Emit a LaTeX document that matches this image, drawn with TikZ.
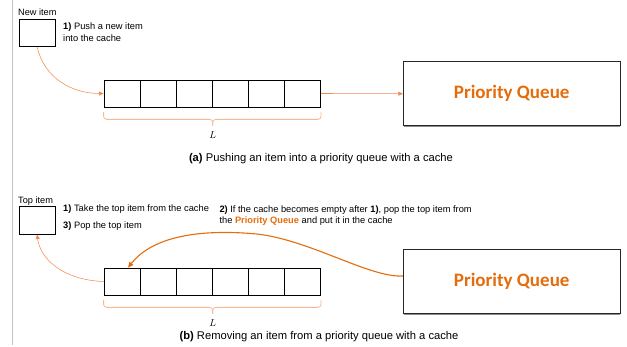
\documentclass[tikz,border=0pt]{standalone}
\usepackage{fontspec}
\setmainfont{Liberation Sans}
\newfontfamily\pqfont{Carlito}
\usetikzlibrary{arrows.meta,calc}
\definecolor{pqorange}{RGB}{228,108,10}
\definecolor{linkorange}{RGB}{240,140,80}
\definecolor{braceorange}{RGB}{246,185,145}
\definecolor{framegray}{RGB}{195,195,195}

\begin{document}
\begin{tikzpicture}[x=1pt,y=-1pt,
  cell/.style={draw=black, line width=0.8pt, minimum width=36.1pt, minimum height=27pt, inner sep=0pt},
  itembox/.style={draw=black, line width=0.8pt, minimum width=36.3pt, minimum height=27.5pt, inner sep=0pt},
  pqbox/.style={draw=black!85, line width=0.9pt, minimum width=216.7pt, minimum height=64pt, inner sep=0pt,
    font=\pqfont\bfseries\fontsize{19}{22}\selectfont, text=pqorange},
  lbl/.style={inner sep=0pt, anchor=base west, font=\fontsize{9.3}{11.9}\selectfont, align=left},
  itemlbl/.style={inner sep=0pt, anchor=base west, font=\fontsize{9.2}{11}\selectfont},
  caption/.style={inner sep=0pt, anchor=base, font=\fontsize{11.2}{13}\selectfont},
  lenlabel/.style={inner sep=0pt, anchor=base, font=\fontsize{10}{12}\selectfont},
  thinarrow/.style={draw=linkorange, line width=0.55pt, -{Triangle[length=4.5pt,width=4pt]}},
  thickarrow/.style={draw=pqorange, line width=1.1pt, -{Triangle[length=5.5pt,width=5pt]}},
  bracestyle/.style={draw=braceorange, line width=0.8pt, rounded corners=3pt},
  pqshadow/.style={draw=black!45, line width=1.2pt},
]
\useasboundingbox (0,0) rectangle (627,347);

% left rule
\draw[framegray, line width=0.9pt] (12.5,0) -- (12.5,345);

% ---------------- (a) push ----------------
\node[itemlbl] (newlbl) at (18,15.8) {New item};
\node[itembox] (newbox) at (37.15,32.7) {};
% the base anchor of a two-line label sits on its last line
\node[lbl] (push) at (63,41.3) {\textbf{1)} Push a new item\\into the cache};

\foreach \i in {1,...,6}
  \node[cell] (a\i) at ({104+36.1*(\i-0.5)},93.5) {};

\draw[pqshadow] ($(403.3,125.7)+(1,0.8)$) -- ($(620,125.7)+(0,0.8)$);
\node[pqbox] (pqa) at (511.7,93.7) {Priority Queue};

\draw[bracestyle] ($(a1.south west)+(0,4.5)$) |- ($(a3.south east)+(0,12)$) -- ($(a3.south east)+(0,18.5)$);
\draw[bracestyle] ($(a6.south east)+(0,4.5)$) |- ($(a3.south east)+(0,12)$) -- ($(a3.south east)+(0,18.5)$);
\node[lenlabel] (la) at ($(a3.south east)+(0,31.5)$) {$L$};

\draw[thinarrow] (newbox.south) .. controls (44,78) and (72,93.5) .. (a1.west);
\draw[thinarrow] (a6.east) -- (pqa.west);

\node[caption] (capa) at (321,162) {\textbf{(a)} Pushing an item into a priority queue with a cache};

% ---------------- (b) pop ----------------
\node[itemlbl] (toplbl) at (18,203.3) {Top item};
\node[itembox] (topbox) at (37.15,220.4) {};
\node[lbl] (take) at (63,211.5) {\textbf{1)} Take the top item from the cache};
\node[lbl] (pop) at (63,228.5) {\textbf{3)} Pop the top item};
\node[lbl] (refill) at (219.3,224) {\textbf{2)} If the cache becomes empty after \textbf{1)}, pop the top item from\\
  the \textcolor{pqorange}{\textbf{Priority Queue}} and put it in the cache};

\foreach \i in {1,...,6}
  \node[cell] (b\i) at ({104+36.1*(\i-0.5)},281.5) {};

\draw[pqshadow] ($(403.3,313.3)+(1,0.8)$) -- ($(620,313.3)+(0,0.8)$);
\node[pqbox] (pqb) at (511.7,281.3) {Priority Queue};

\draw[bracestyle] ($(b1.south west)+(0,4.5)$) |- ($(b3.south east)+(0,12)$) -- ($(b3.south east)+(0,18.5)$);
\draw[bracestyle] ($(b6.south east)+(0,4.5)$) |- ($(b3.south east)+(0,12)$) -- ($(b3.south east)+(0,18.5)$);
\node[lenlabel] (lb) at ($(b3.south east)+(0,31.5)$) {$L$};

\draw[thinarrow] (b1.west) .. controls (62,280) and (40,258) .. (topbox.south);
\draw[thickarrow] ($(pqb.west)+(0,-5.3)$) .. controls (370,278) and (310,240) .. (257,234)
  .. controls (190,228) and (150,240) .. ($(b1.north)+(6,0)$);

\node[caption] (capb) at (319,340) {\textbf{(b)} Removing an item from a priority queue with a cache};
\end{tikzpicture}
\end{document}
